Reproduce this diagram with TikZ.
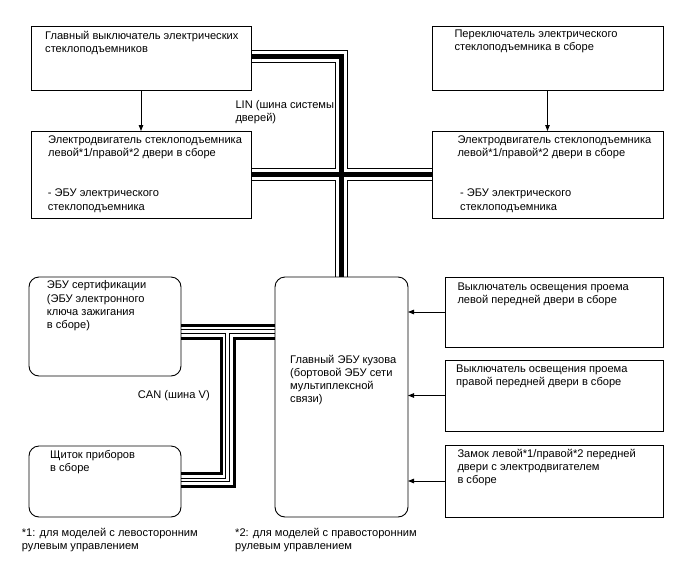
\documentclass[tikz,border=0pt]{standalone}
\usepackage{fontspec}
\setmainfont{Liberation Sans}
\usetikzlibrary{arrows.meta,backgrounds}
\newcommand\mkbox[6]{\node[#1,minimum width={#5-#3},minimum height={#6-#4}] (#2) at ({(#3+#5)/2},{(#4+#6)/2}) {};}
\begin{document}
\begin{tikzpicture}[x=1pt,y=-1pt,
  box/.style={draw,line width=0.9pt,inner sep=0pt,outer sep=0pt},
  rbox/.style={box,rounded corners=10pt},
  txt/.style={font=\fontsize{11.1}{13.2}\selectfont,align=left,anchor=north west,inner sep=0pt},
  arr/.style={line width=0.9pt,-{Triangle[length=6pt,width=4.5pt]}},
  linA/.style={line width=13pt,black},
  linB/.style={line width=11pt,white},
  linC/.style={line width=5pt,black},
  canA/.style={line width=16pt,black},
  canB/.style={line width=10pt,white},
  canC/.style={line width=4.5pt,black},
  canD/.style={line width=2.5pt,white}]
\useasboundingbox (0,0) rectangle (688,560);

% boxes
\mkbox{box}{b1}{31}{26}{251}{90}
\mkbox{box}{b2}{31}{131}{251}{218}
\mkbox{box}{b3}{432}{26}{663}{90}
\mkbox{box}{b4}{432}{131}{663}{218}
\mkbox{rbox}{cert}{29}{277}{181}{376}
\mkbox{rbox}{shch}{29}{446}{181}{517}
\mkbox{rbox}{ecu}{275}{277}{408}{517}
\mkbox{box}{r1}{445}{277}{663}{347}
\mkbox{box}{r2}{445}{360}{663}{431}
\mkbox{box}{r3}{445}{445}{663}{517}

% bus coordinates
\coordinate (lintop) at (341,56);
\coordinate (canJ) at (227.5,331.5);
\coordinate (canL) at (227.5,480);

\newcommand\linpaths[1]{%
  \draw[#1] (b1.east |- lintop) -- (lintop) -- (lintop |- ecu.north);
  \draw[#1] (b2.east) -- (b4.west);}
\newcommand\canpaths[1]{%
  \draw[#1] (cert.east |- canJ) -- (ecu.west |- canJ);
  \draw[#1] (canJ) -- (canL) -- (shch.east |- canL);}

\begin{pgfonlayer}{background}
  \linpaths{linA}\linpaths{linB}\linpaths{linC}
  \canpaths{canA}\canpaths{canB}\canpaths{canC}\canpaths{canD}
\end{pgfonlayer}

% arrows
\draw[arr] (b1.south) -- (b2.north);
\draw[arr] (b3.south) -- (b4.north);
\draw[arr] (r1.west) -- (ecu.east |- r1.west);
\draw[arr] (r2.west) -- (ecu.east |- r2.west);
\draw[arr] (r3.west) -- (ecu.east |- r3.west);

% texts
\node[txt] (t1) at (45,30.6) {Главный выключатель электрических\\стеклоподъемников};
\node[txt] (t2a) at (48,135.6) {Электродвигатель стеклоподъемника\\левой*1/правой*2 двери в сборе};
\node[txt] (t2b) at (47.7,188.9) {- ЭБУ электрического\\стеклоподъемника};
\node[txt] (lin) at (235.3,99.9) {LIN (шина системы\\дверей)};
\node[txt] (t3) at (454.3,29.9) {Переключатель электрического\\стеклоподъемника в сборе};
\node[txt] (t4a) at (457.3,135.6) {Электродвигатель стеклоподъемника\\левой*1/правой*2 двери в сборе};
\node[txt] (t4b) at (460,188.9) {- ЭБУ электрического\\стеклоподъемника};
\node[txt] (tcert) at (46.7,280.6) {ЭБУ сертификации\\(ЭБУ электронного\\ключа зажигания\\в сборе)};
\node[txt] (tshch) at (50,449.9) {Щиток приборов\\в сборе};
\node[txt] (tecu) at (290,354.6) {Главный ЭБУ кузова\\(бортовой ЭБУ сети\\мультиплексной\\связи)};
\node[txt] (can) at (137.7,390.6) {CAN (шина V)};
\node[txt] (tr1) at (457.3,282.3) {Выключатель освещения проема\\левой передней двери в сборе};
\node[txt] (tr2) at (456,364.9) {Выключатель освещения проема\\правой передней двери в сборе};
\node[txt] (tr3) at (457.3,448.9) {Замок левой*1/правой*2 передней\\двери с электродвигателем\\в сборе};
\node[txt] (f1) at (21.7,528.3) {*1: для моделей с левосторонним\\рулевым управлением};
\node[txt] (f2) at (235,528.3) {*2: для моделей с правосторонним\\рулевым управлением};
\end{tikzpicture}
\end{document}
